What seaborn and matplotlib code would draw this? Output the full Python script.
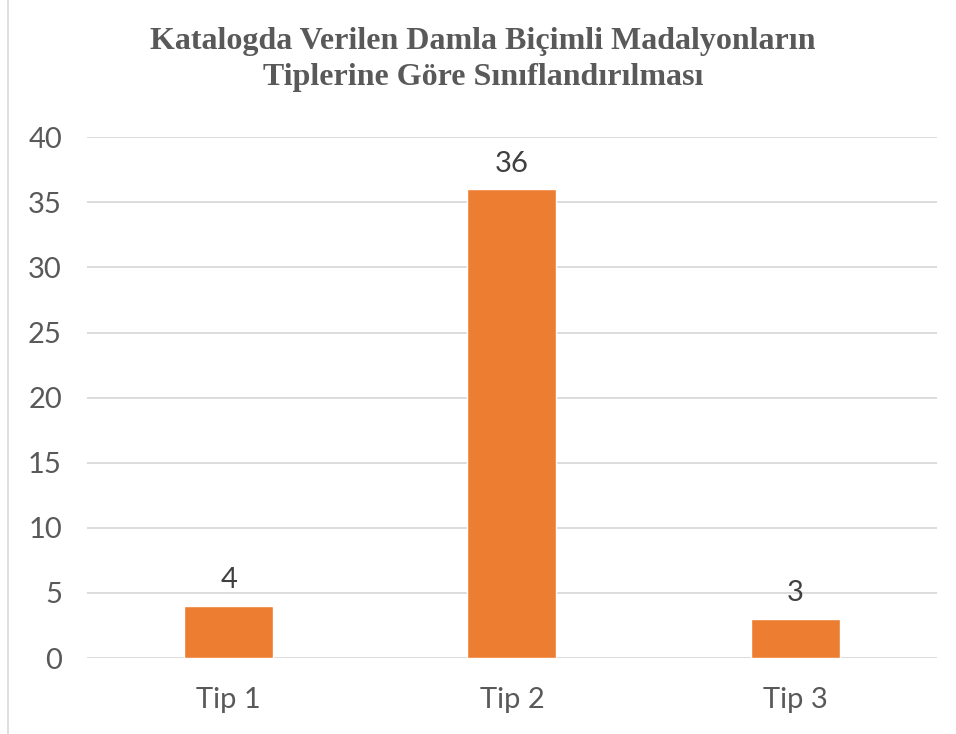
import matplotlib
matplotlib.use("Agg")
import matplotlib.pyplot as plt
import seaborn as sns
import pandas as pd
from matplotlib.lines import Line2D

categories = ["Tip 1", "Tip 2", "Tip 3"]
values = [4, 36, 3]
yticks = [0, 5, 10, 15, 20, 25, 30, 35, 40]

df = pd.DataFrame({"Tip": categories, "Sayi": values})

sns.set_theme(style="white")
plt.rcParams['font.family'] = ['Lato', 'DejaVu Sans']

fig = plt.figure(figsize=(9.56, 7.34), dpi=100)
ax = fig.add_axes([0.091, 0.1035, 0.889, 0.7095])

sns.barplot(data=df, x="Tip", y="Sayi", color="#ED7D31", width=0.314,
            saturation=1, ax=ax, zorder=3)

ax.set_ylim(0, 40)
ax.set_xlim(-0.5, 2.5)
ax.set_yticks(yticks)
ax.yaxis.grid(True, color="#d9d9d9", linewidth=1.3, zorder=0)
ax.set_axisbelow(True)
for s in ax.spines.values():
    s.set_visible(False)
ax.tick_params(axis="both", length=0, labelsize=21, labelcolor="#595959")
ax.tick_params(axis="y", pad=18)
ax.tick_params(axis="x", pad=21)
ax.set_xlabel("")
ax.set_ylabel("")

for i, v in enumerate(values):
    ax.annotate(str(v), (i, v), xytext=(0, 9), textcoords="offset points",
                ha="center", va="bottom", fontsize=21, color="#404040")

fig.text(0.505, 0.919, "Katalogda Verilen Damla Biçimli Madalyonların\nTiplerine Göre Sınıflandırılması",
         ha="center", va="center", fontsize=23, fontweight="bold",
         family=["Liberation Serif", "DejaVu Serif"], color="#595959",
         linespacing=1.3)

fig.add_artist(Line2D([0.0085, 0.0085], [0, 1], transform=fig.transFigure,
                      color="#d9d9d9", linewidth=1.2))

fig.savefig("out.png", dpi=100, facecolor="white")
